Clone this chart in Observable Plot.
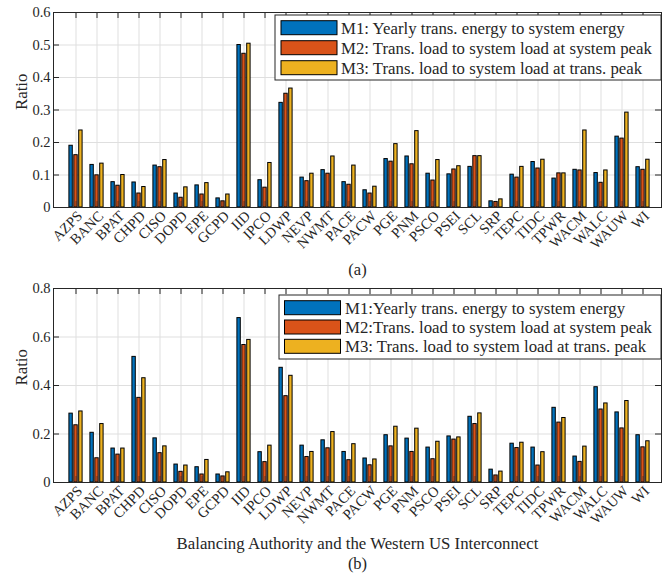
<!DOCTYPE html>
<html>
<head>
<meta charset="utf-8">
<script src="https://cdn.jsdelivr.net/npm/d3@7"></script>
<script src="https://cdn.jsdelivr.net/npm/@observablehq/plot@0.6"></script>
<style>
  html, body { margin: 0; padding: 0; background: #fff; }
  #chart svg { display: block; }
</style>
</head>
<body>
<div id="chart"></div>
<script>
const categories = ["AZPS","BANC","BPAT","CHPD","CISO","DOPD","EPE","GCPD","IID","IPCO","LDWP","NEVP","NWMT","PACE","PACW","PGE","PNM","PSCO","PSEI","SCL","SRP","TEPC","TIDC","TPWR","WACM","WALC","WAUW","WI"];

// Panel (a)
const m1a = [0.190,0.131,0.078,0.077,0.129,0.043,0.068,0.028,0.500,0.084,0.322,0.092,0.115,0.078,0.053,0.149,0.157,0.104,0.102,0.125,0.019,0.101,0.140,0.089,0.116,0.106,0.218,0.124];
const m2a = [0.161,0.099,0.067,0.043,0.124,0.030,0.040,0.019,0.473,0.061,0.350,0.081,0.104,0.070,0.043,0.141,0.133,0.083,0.117,0.158,0.017,0.092,0.120,0.105,0.114,0.076,0.212,0.116];
const m3a = [0.237,0.135,0.100,0.063,0.146,0.062,0.075,0.040,0.504,0.137,0.366,0.104,0.157,0.129,0.064,0.195,0.235,0.146,0.127,0.158,0.025,0.125,0.147,0.105,0.237,0.114,0.292,0.147];

// Panel (b)
const m1b = [0.284,0.205,0.140,0.518,0.182,0.074,0.063,0.033,0.678,0.125,0.473,0.152,0.174,0.126,0.099,0.195,0.181,0.144,0.190,0.271,0.053,0.160,0.144,0.308,0.107,0.393,0.289,0.195];
const m2b = [0.236,0.100,0.115,0.349,0.121,0.044,0.033,0.025,0.567,0.084,0.356,0.105,0.141,0.092,0.071,0.149,0.126,0.096,0.177,0.241,0.029,0.142,0.070,0.247,0.085,0.301,0.223,0.145];
const m3b = [0.293,0.241,0.140,0.430,0.149,0.070,0.093,0.042,0.588,0.152,0.440,0.126,0.208,0.158,0.095,0.230,0.222,0.168,0.186,0.285,0.045,0.164,0.125,0.266,0.148,0.326,0.336,0.170];

const yTicksA = [0, 0.1, 0.2, 0.3, 0.4, 0.5, 0.6];
const yTicksB = [0, 0.2, 0.4, 0.6, 0.8];

const legendA = ["M1: Yearly trans. energy to system energy", "M2: Trans. load to system load at system peak", "M3: Trans. load to system load at trans. peak"];
const legendB = ["M1:Yearly trans. energy to system energy", "M2:Trans. load to system load at system peak", "M3: Trans. load to system load at trans. peak"];

const colors = ["#0072BD", "#D95319", "#EDB120"];
const ink = "#262626";
const W = 671, ML = 53, MR = 10;
const xRange = [53.39, 664.21];

function panel({m1, m2, m3, yMax, yTicks, height, mt, mb, caption, capDy, xlabel, legendLabels, legend}) {
  const table = categories.map((c, i) => ({cat: c, m1: m1[i], m2: m2[i], m3: m3[i]}));
  const plotH = height - mt - mb;
  const plotW = W - ML - MR;
  const bw = (xRange[1] - xRange[0]) / categories.length;
  const barW = 4.2;
  const inset = (bw - barW) / 2;
  const step = 4.9;
  const marks = [
    Plot.ruleX(categories, {x: d => d, stroke: "#dfdfdf", strokeWidth: 1}),
    Plot.ruleY(yTicks, {y: d => d, stroke: "#dfdfdf", strokeWidth: 1}),
    Plot.barY(table, {x: "cat", y: "m1", fill: colors[0], stroke: "#000", strokeWidth: 1, insetLeft: inset, insetRight: inset, dx: -step}),
    Plot.barY(table, {x: "cat", y: "m2", fill: colors[1], stroke: "#000", strokeWidth: 1, insetLeft: inset, insetRight: inset}),
    Plot.barY(table, {x: "cat", y: "m3", fill: colors[2], stroke: "#000", strokeWidth: 1, insetLeft: inset, insetRight: inset, dx: step}),
    // inward ticks on all four sides
    Plot.ruleX(categories, {x: d => d, stroke: ink, insetBottom: plotH - 6}),
    Plot.ruleX(categories, {x: d => d, stroke: ink, strokeOpacity: 0.6, insetTop: plotH - 6}),
    Plot.ruleY(yTicks, {y: d => d, stroke: ink, insetRight: plotW - 6}),
    Plot.ruleY(yTicks, {y: d => d, stroke: ink, insetLeft: plotW - 6}),
    Plot.frame({stroke: ink, strokeWidth: 1}),
    // tick labels
    Plot.text(yTicks, {y: d => d, text: d => String(d), frameAnchor: "left", textAnchor: "end", dx: -3, fill: ink}),
    Plot.text(categories, {x: d => d, text: d => d, frameAnchor: "bottom", rotate: -45, textAnchor: "end", lineAnchor: "middle", dx: 4, dy: 6, fill: ink}),
    Plot.text(["Ratio"], {frameAnchor: "left", rotate: -90, lineAnchor: "middle", dx: -32, fontSize: 16.8, fill: ink}),
    Plot.text([caption], {frameAnchor: "bottom", lineAnchor: "middle", dy: capDy, fontSize: 16.5, fill: ink})
  ];
  if (xlabel) marks.push(Plot.text([xlabel], {frameAnchor: "bottom", lineAnchor: "middle", dy: 61, fontSize: 16.8, fill: ink}));
  const svg = Plot.plot({
    width: W, height, marginLeft: ML, marginRight: MR, marginTop: mt, marginBottom: mb,
    style: {fontFamily: "'Liberation Serif', 'Times New Roman', serif", fontSize: "14.5px", color: ink, background: "#fff", overflow: "visible"},
    x: {type: "band", domain: categories, range: xRange, padding: 0, axis: null},
    y: {domain: [0, yMax], axis: null},
    marks
  });
  // legend box
  const g = d3.select(svg).append("g").attr("text-anchor", "start");
  const L = legend;
  g.append("rect").attr("x", L.x0).attr("y", L.y0).attr("width", L.x1 - L.x0).attr("height", L.y1 - L.y0)
    .attr("fill", "#fff").attr("stroke", ink).attr("stroke-width", 1);
  legendLabels.forEach((lab, i) => {
    const y = L.rows[i];
    g.append("rect").attr("x", L.sx0).attr("y", y).attr("width", L.sx1 - L.sx0).attr("height", 14)
      .attr("fill", colors[i]).attr("stroke", "#000").attr("stroke-width", 1);
    g.append("text").attr("x", L.tx).attr("y", y + 7).attr("dy", "0.35em").attr("text-anchor", "start")
      .attr("font-size", "16.8px").attr("fill", ink).text(lab);
  });
  return svg;
}

const root = document.getElementById("chart");
root.appendChild(panel({
  m1: m1a, m2: m2a, m3: m3a, yMax: 0.6, yTicks: yTicksA,
  height: 280, mt: 12, mb: 73, caption: "(a)", capDy: 62, xlabel: null, legendLabels: legendA,
  legend: {x0: 275, x1: 661, y0: 15, y1: 80, sx0: 281, sx1: 337, tx: 341, rows: [20.7, 40.7, 60.7]}
}));
root.appendChild(panel({
  m1: m1b, m2: m2b, m3: m3b, yMax: 0.8, yTicks: yTicksB,
  height: 294, mt: 8, mb: 92, caption: "(b)", capDy: 81, xlabel: "Balancing Authority and the Western US Interconnect", legendLabels: legendB,
  legend: {x0: 279, x1: 661, y0: 15, y1: 79, sx0: 284.5, sx1: 340.5, tx: 345, rows: [20.7, 40, 59.3]}
}));
</script>
</body>
</html>
